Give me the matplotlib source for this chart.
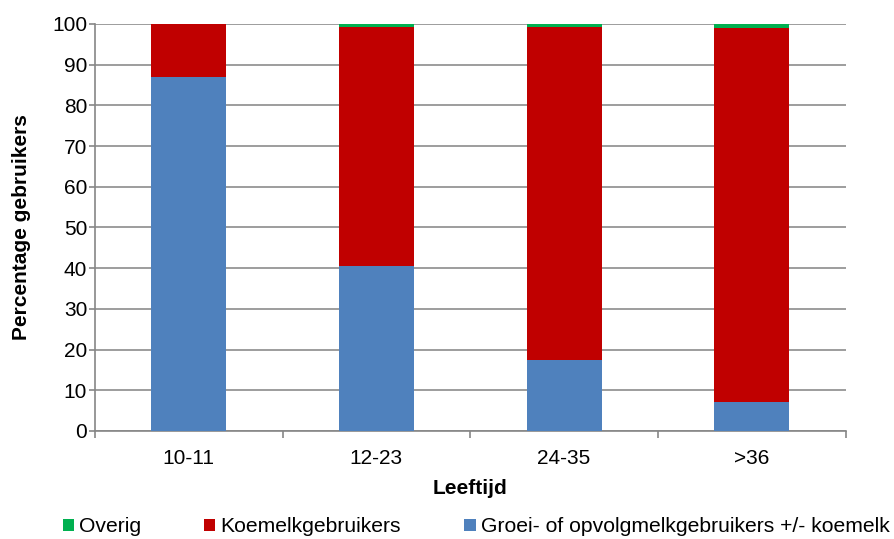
import matplotlib
matplotlib.use("Agg")
import matplotlib.pyplot as plt
import numpy as np

plt.rcParams['font.family'] = ['Liberation Sans', 'DejaVu Sans']

categories = ["10-11", "12-23", "24-35", ">36"]
groei = [87.0, 40.5, 17.5, 7.0]
koemelk = [13.0, 58.8, 81.7, 92.0]
overig = [0.0, 0.7, 0.8, 1.0]

c_groei = "#4F81BD"
c_koe = "#C00000"
c_ov = "#00B050"

FS = 15

fig = plt.figure(figsize=(8.94, 5.39), dpi=100)
ax = fig.add_axes([0.106, 0.2004, 0.840, 0.7551])

x = np.arange(len(categories))
w = 0.4
ax.bar(x, groei, w, color=c_groei, label="Groei- of opvolgmelkgebruikers +/- koemelk", zorder=3)
ax.bar(x, koemelk, w, bottom=groei, color=c_koe, label="Koemelkgebruikers", zorder=3)
bot2 = [g + k for g, k in zip(groei, koemelk)]
ax.bar(x, overig, w, bottom=bot2, color=c_ov, label="Overig", zorder=3)

ax.set_xlim(-0.5, len(categories) - 0.5)
ax.set_ylim(0, 100)
ax.set_yticks(np.arange(0, 101, 10))
ax.set_xticks(x)
ax.set_xticklabels(categories)
ax.set_xticks(np.arange(-0.5, len(categories), 1), minor=True)
ax.tick_params(axis='x', which='major', length=0, labelsize=FS, pad=13)
ax.tick_params(axis='x', which='minor', length=5, color='#868686', direction='out', width=1.2)
ax.tick_params(axis='y', labelsize=FS, length=4, color='#868686', direction='out', pad=1.5, width=1.2)

ax.grid(axis='y', color='#8C8C8C', linewidth=1.2, zorder=0)
for s in ['top', 'right']:
    ax.spines[s].set_visible(False)
for s in ['left', 'bottom']:
    ax.spines[s].set_color('#868686')
    ax.spines[s].set_linewidth(1.2)

ax.set_ylabel("Percentage gebruikers", fontsize=FS, fontweight='bold')
ax.yaxis.set_label_coords(22 / 894, 1 - 227 / 539, transform=fig.transFigure)
ax.yaxis.label.set_va('center')
ax.set_xlabel("Leeftijd", fontsize=FS, fontweight='bold')
ax.xaxis.set_label_coords(470 / 894, 1 - 488 / 539, transform=fig.transFigure)
ax.xaxis.label.set_va('center')

h, l = ax.get_legend_handles_labels()
order = [2, 1, 0]
fig.legend([h[i] for i in order], [l[i] for i in order], loc='center',
           bbox_to_anchor=(476 / 894, 1 - 527 / 539), ncol=3, frameon=False,
           fontsize=15.2, handlelength=0.53, handleheight=0.53, handletextpad=0.24,
           columnspacing=3.0, borderaxespad=0, borderpad=0)

fig.savefig("out.png", dpi=100)
